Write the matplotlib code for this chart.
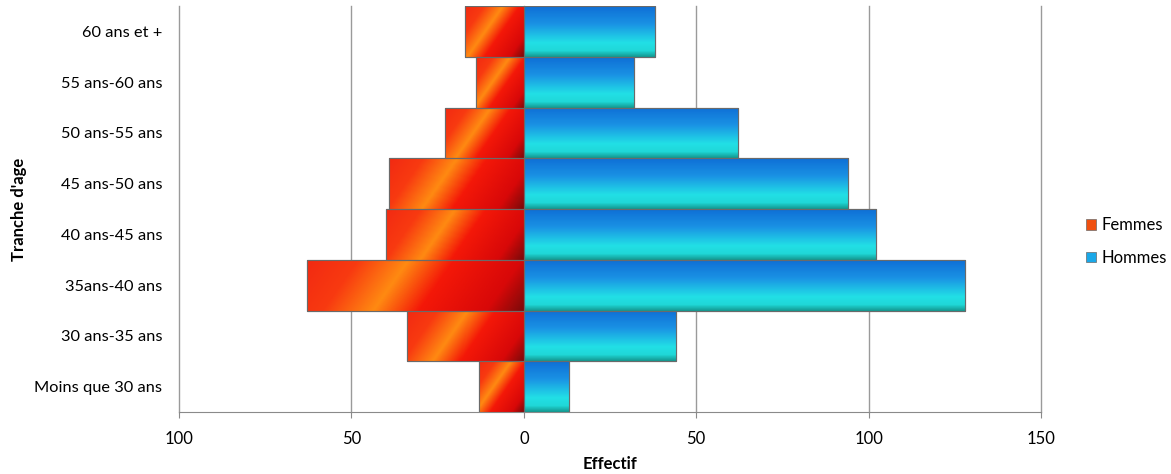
import matplotlib.pyplot as plt
import numpy as np
from matplotlib.colors import LinearSegmentedColormap

plt.rcParams['font.family'] = ['Lato', 'DejaVu Sans']

categories = ["Moins que 30 ans", "30 ans-35 ans", "35ans-40 ans", "40 ans-45 ans",
              "45 ans-50 ans", "50 ans-55 ans", "55 ans-60 ans", "60 ans et +"]
femmes = [13, 34, 63, 40, 39, 23, 14, 17]
hommes = [13, 44, 128, 102, 94, 62, 32, 38]
xticks = [-100, -50, 0, 50, 100, 150]

cmap_f = LinearSegmentedColormap.from_list(
    "f", [(0, "#f22a12"), (0.2, "#f83a10"), (0.4, "#ff8a12"), (0.58, "#f41808"),
          (0.85, "#d80808"), (1, "#7a0a0a")])
cmap_h = LinearSegmentedColormap.from_list(
    "h", [(0, "#0f6fd6"), (0.35, "#1a92e4"), (0.72, "#22dfe6"), (0.88, "#20d8d8"), (1, "#139a92")])

fig = plt.figure(figsize=(11.71, 4.74), dpi=100)
ax = fig.add_axes([0.1529, 0.1308, 0.7361, 0.8565])

y = np.arange(len(categories))
bars_f = ax.barh(y, [-v for v in femmes], height=1.0, color="#f04010",
                 edgecolor="#6a6a6a", linewidth=0.8, zorder=3, label="Femmes")
bars_h = ax.barh(y, hommes, height=1.0, color="#1aa0e8",
                 edgecolor="#6a6a6a", linewidth=0.8, zorder=3, label="Hommes")

# gradient fills clipped to each bar
ny, nx = 60, 200
gx = np.linspace(0, 1, nx)[None, :]
gy = np.linspace(0, 1, ny)[:, None]
for b in bars_f:
    x0, yb, w, h = b.get_x(), b.get_y(), b.get_width(), b.get_height()
    wpx = abs(w) * 3.45
    t = (gx * wpx + (1 - gy) * 50 * 0.7) / (wpx + 35)
    t = np.clip(t, 0, 1)
    im = ax.imshow(t, cmap=cmap_f, extent=[x0 + w, x0, yb, yb + h] if w < 0 else [x0, x0 + w, yb, yb + h],
                   origin="lower", aspect="auto", zorder=3.5, interpolation="bilinear")
    im.set_clip_path(b)
for b in bars_h:
    x0, yb, w, h = b.get_x(), b.get_y(), b.get_width(), b.get_height()
    t = np.repeat(1 - gy, nx, axis=1)
    im = ax.imshow(t, cmap=cmap_h, extent=[x0, x0 + w, yb, yb + h],
                   origin="lower", aspect="auto", zorder=3.5, interpolation="bilinear")
    im.set_clip_path(b)
# redraw outlines on top
for b in list(bars_f) + list(bars_h):
    ax.add_patch(plt.Rectangle((b.get_x(), b.get_y()), b.get_width(), b.get_height(),
                               fill=False, edgecolor="#6a6a6a", linewidth=0.8, zorder=4))

ax.set_xlim(-100, 150)
ax.set_ylim(-0.5, len(categories) - 0.5)
ax.set_xticks(xticks)
ax.set_xticklabels([str(abs(v)) for v in xticks], fontsize=12)
ax.set_yticks(y)
ax.set_yticklabels(categories, fontsize=11.8)
ax.tick_params(axis="y", length=0, pad=12)
ax.tick_params(axis="x", length=4, color="#8a8a8a", direction="out", pad=10)
ax.grid(axis="x", color="#9a9a9a", linewidth=1.0, zorder=0)
for gl in ax.get_xgridlines():
    gl.set_clip_on(False)
ax.set_axisbelow(True)
for s in ["top", "right", "left"]:
    ax.spines[s].set_visible(False)
ax.spines["bottom"].set_color("#8a8a8a")
ax.axvline(0, color="#8a8a8a", linewidth=1.0, zorder=2)

ax.set_xlabel("Effectif", fontsize=12, fontweight="bold", labelpad=6)
ax.set_ylabel("Tranche d'age", fontsize=12, fontweight="bold")
ax.yaxis.set_label_coords(-0.176, 0.5)

leg = ax.legend(loc="center left", bbox_to_anchor=(1.035, 0.42), frameon=False,
                fontsize=12, handlelength=0.6, handleheight=0.6, handletextpad=0.3,
                labelspacing=1.0)
leg.legend_handles[0].set_facecolor("#f05010")
leg.legend_handles[1].set_facecolor("#1aa8e8")
for hnd in leg.legend_handles:
    hnd.set_edgecolor("#6a6a6a")
    hnd.set_linewidth(0.5)

fig.savefig("out.png", dpi=100)
